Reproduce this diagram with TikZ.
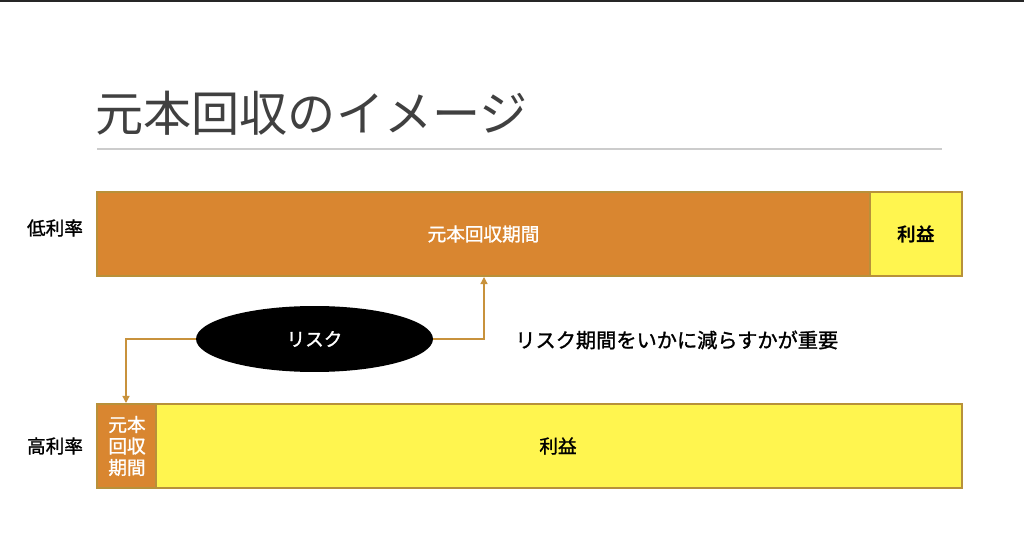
\documentclass[tikz,border=0pt]{standalone}
\usepackage{fontspec}
\newfontfamily\jp{Noto Sans CJK JP}
\newfontfamily\jpm[FakeBold=1.3]{Noto Sans CJK JP}
\newfontfamily\jpb{Noto Sans CJK JP Bold}
\usetikzlibrary{shapes.geometric,arrows.meta}
\definecolor{barorange}{HTML}{D98630}
\definecolor{baryellow}{HTML}{FFF54F}
\definecolor{barborder}{HTML}{B8913A}
\definecolor{arrowc}{HTML}{C8923C}
\definecolor{titlec}{HTML}{404040}
\tikzset{
  bar/.style={draw=barborder, line width=0.6pt, anchor=north west, inner sep=0pt},
  lbl/.style={font=\jpm\fontsize{10.6pt}{13pt}\selectfont, text=black},
  wlbl/.style={font=\jpm\fontsize{10.6pt}{12pt}\selectfont, text=white},
  conn/.style={draw=arrowc, line width=0.7pt, -{Triangle[length=4pt,width=4pt]}},
}
\begin{document}
\begin{tikzpicture}[x=0.02cm,y=-0.02cm]
\useasboundingbox (0,0) rectangle (1024,536);
\fill[white] (0,0) rectangle (1024,536);
\fill[black!85] (0,0) rectangle (1024,2);
% title
\node[anchor=base west, inner sep=0pt, text=titlec, font=\jp\fontsize{27.4pt}{30pt}\selectfont] (title) at (95,132) {元本回収のイメージ};
\draw[black!20, line width=0.6pt] (97,149) -- (942,149);
% top bar
\path[bar, fill=barorange] (97,192) rectangle (870,276);
\path[bar, fill=baryellow] (870,192) rectangle (962,276);
\node[wlbl] (topa) at (483.5,234) {元本回収期間};
\node[lbl, font=\jpb\fontsize{10.6pt}{13pt}\selectfont] (topb) at (916,234) {利益};
\node[lbl] (low) at (55,228) {低利率};
\coordinate (topbot) at (484,277);
% bottom bar
\path[bar, fill=barorange] (97,404) rectangle (156,488);
\path[bar, fill=baryellow] (156,404) rectangle (962,488);
\coordinate (botin) at (126,403);
\node[wlbl, align=center, font=\jpm\fontsize{10.6pt}{12.2pt}\selectfont] (bota) at (127,446) {元本\\回収\\期間};
\node[lbl] (botb) at (558,446) {利益};
\node[lbl] (high) at (55,446) {高利率};
% risk ellipse
\node[ellipse, fill=black, inner sep=0pt, minimum width=4.74cm, minimum height=1.32cm, text=white, font=\jpm\fontsize{10.6pt}{13pt}\selectfont] (risk) at (314.5,339) {リスク};
\draw[conn] (risk.east) -- (484,339) -- (topbot);
\draw[conn] (risk.west) -- (126,339) -- (botin);
\node[anchor=west, inner sep=0pt, font=\jpm\fontsize{11.5pt}{13pt}\selectfont] (msg) at (515,340) {リスク期間をいかに減らすかが重要};
\end{tikzpicture}
\end{document}
